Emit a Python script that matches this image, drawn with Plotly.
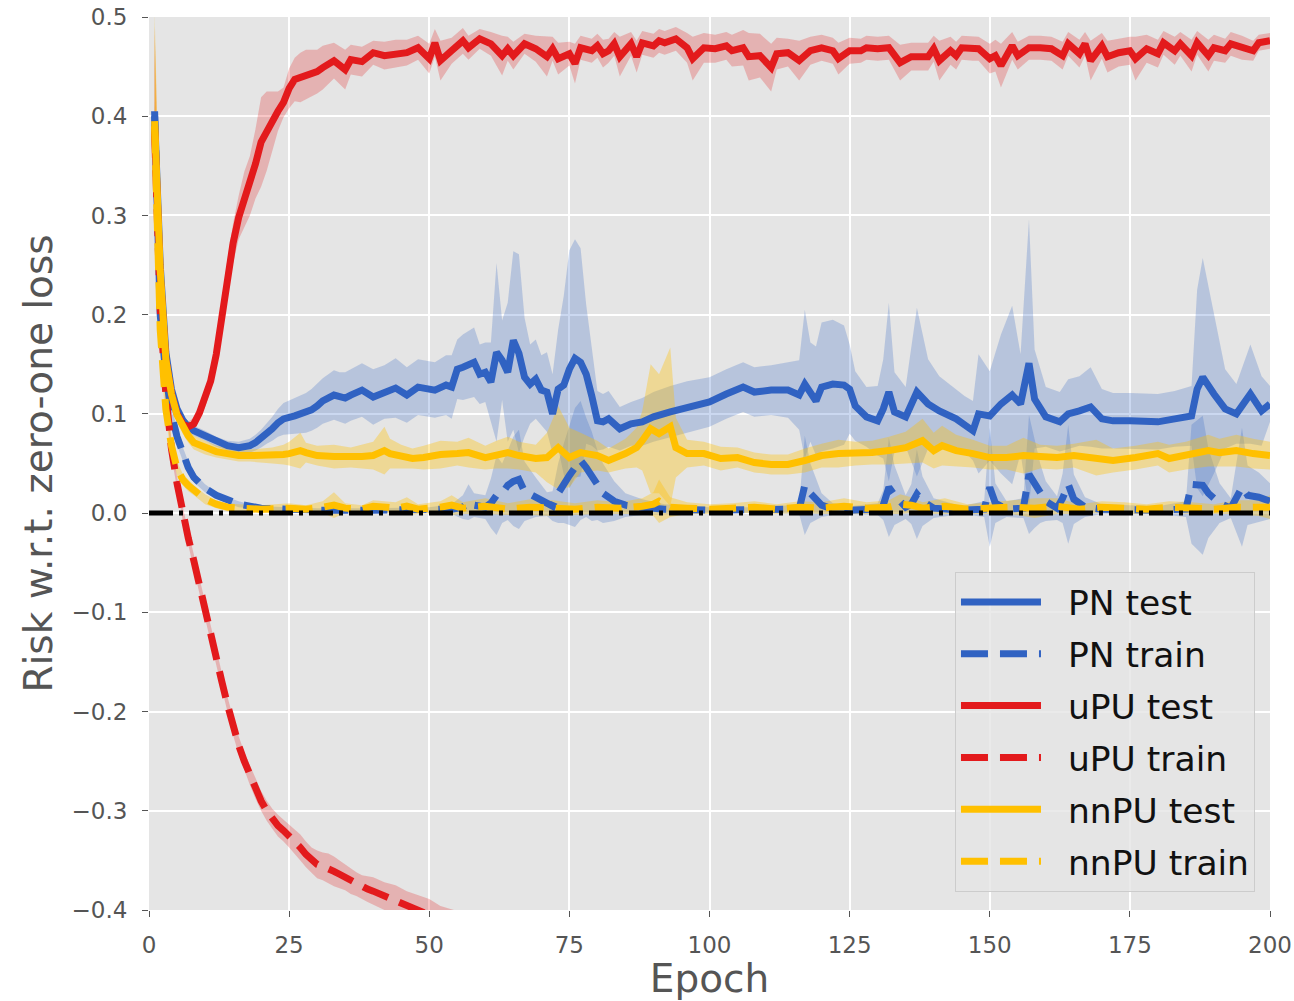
import plotly.graph_objects as go

# (epoch, mean, std)
pn_test = [
    (1, 0.400, 0.010), (2, 0.250, 0.008), (3, 0.162, 0.006), (4, 0.125, 0.005), (5, 0.105, 0.005),
    (6, 0.094, 0.005), (7, 0.087, 0.005), (8, 0.083, 0.005), (10, 0.078, 0.005), (12, 0.072, 0.005),
    (14, 0.068, 0.005), (16, 0.066, 0.006), (18, 0.068, 0.007), (19, 0.071, 0.008), (20, 0.075, 0.009),
    (21, 0.080, 0.010), (22, 0.085, 0.012), (23, 0.091, 0.014), (24, 0.095, 0.016), (26, 0.098, 0.018),
    (28, 0.101, 0.020), (29, 0.104, 0.021), (30, 0.108, 0.022), (31, 0.113, 0.023), (33, 0.119, 0.025),
    (34, 0.117, 0.025), (35, 0.116, 0.026), (36, 0.119, 0.026), (38, 0.124, 0.027), (40, 0.117, 0.028),
    (42, 0.122, 0.027), (44, 0.126, 0.030), (46, 0.119, 0.028), (48, 0.127, 0.028), (51, 0.124, 0.028),
    (53, 0.129, 0.030), (54, 0.127, 0.032), (55, 0.145, 0.030), (56, 0.147, 0.033), (58, 0.152, 0.035),
    (59, 0.140, 0.030), (60, 0.142, 0.030), (61, 0.132, 0.040), (62, 0.162, 0.090), (63, 0.154, 0.040),
    (64, 0.142, 0.070), (65, 0.174, 0.090), (66, 0.161, 0.100), (67, 0.137, 0.060), (68, 0.130, 0.040),
    (69, 0.135, 0.040), (70, 0.124, 0.035), (71, 0.122, 0.040), (72, 0.100, 0.040), (73, 0.125, 0.060),
    (74, 0.129, 0.090), (75, 0.145, 0.120), (76, 0.156, 0.120), (77, 0.152, 0.115), (78, 0.140, 0.070),
    (79, 0.118, 0.050), (80, 0.093, 0.030), (81, 0.092, 0.028), (82, 0.095, 0.028), (84, 0.085, 0.022),
    (86, 0.090, 0.022), (88, 0.092, 0.024), (90, 0.097, 0.025), (93, 0.102, 0.026), (96, 0.107, 0.026),
    (100, 0.112, 0.025), (103, 0.120, 0.025), (106, 0.127, 0.025), (108, 0.122, 0.025), (111, 0.124, 0.025),
    (114, 0.124, 0.028), (116, 0.119, 0.035), (117, 0.130, 0.075), (118, 0.122, 0.050), (119, 0.113, 0.055),
    (120, 0.127, 0.065), (122, 0.130, 0.065), (124, 0.129, 0.060), (125, 0.125, 0.045), (126, 0.108, 0.035),
    (128, 0.097, 0.030), (130, 0.093, 0.035), (131, 0.105, 0.050), (132, 0.122, 0.090), (133, 0.102, 0.040),
    (135, 0.097, 0.030), (137, 0.122, 0.085), (139, 0.110, 0.045), (141, 0.103, 0.035), (144, 0.095, 0.030),
    (145.5, 0.090, 0.028), (147, 0.083, 0.030), (148, 0.100, 0.060), (150, 0.098, 0.045), (152, 0.110, 0.070),
    (154, 0.119, 0.090), (155.5, 0.110, 0.050), (157, 0.151, 0.145), (158, 0.115, 0.050), (160, 0.097, 0.030),
    (162.5, 0.092, 0.030), (164, 0.100, 0.035), (166, 0.103, 0.035), (168, 0.107, 0.040), (170, 0.095, 0.030),
    (172, 0.093, 0.028), (175, 0.093, 0.028), (180, 0.092, 0.028), (183, 0.095, 0.028), (186, 0.098, 0.030),
    (187, 0.125, 0.100), (188, 0.137, 0.120), (190, 0.120, 0.080), (192, 0.105, 0.040), (194, 0.100, 0.030),
    (196.5, 0.120, 0.050), (198.5, 0.103, 0.035), (200, 0.110, 0.018),
]

pn_train = [
    (1, 0.405, 0.010), (2, 0.200, 0.010), (3, 0.140, 0.008), (4, 0.100, 0.008), (5, 0.077, 0.008),
    (6, 0.060, 0.007), (7, 0.046, 0.006), (8, 0.036, 0.005), (10, 0.025, 0.004), (12, 0.018, 0.003),
    (14, 0.013, 0.003), (16, 0.009, 0.003), (18, 0.007, 0.002), (20, 0.005, 0.002), (25, 0.004, 0.002),
    (30, 0.003, 0.002), (40, 0.003, 0.002), (50, 0.003, 0.003), (54, 0.004, 0.005), (56, 0.006, 0.012),
    (57, 0.011, 0.018), (58, 0.008, 0.012), (60, 0.006, 0.012), (61, 0.010, 0.025), (62, 0.018, 0.040),
    (63, 0.020, 0.030), (64, 0.028, 0.035), (65, 0.032, 0.045), (66, 0.034, 0.050), (67, 0.022, 0.030),
    (69, 0.016, 0.020), (71, 0.009, 0.012), (72, 0.007, 0.015), (73, 0.020, 0.030), (74, 0.030, 0.040),
    (75, 0.038, 0.050), (76, 0.046, 0.060), (77, 0.053, 0.060), (78, 0.046, 0.050), (79, 0.037, 0.045),
    (80, 0.028, 0.035), (81, 0.020, 0.030), (83, 0.012, 0.020), (85, 0.008, 0.012), (88, 0.006, 0.008),
    (92, 0.004, 0.005), (100, 0.003, 0.003), (110, 0.003, 0.003), (116, 0.004, 0.005), (117, 0.028, 0.050),
    (118, 0.020, 0.030), (120, 0.008, 0.012), (122, 0.004, 0.006), (125, 0.003, 0.004), (130, 0.004, 0.006),
    (131, 0.008, 0.015), (132, 0.026, 0.050), (133, 0.018, 0.030), (135, 0.006, 0.012), (136, 0.009, 0.020),
    (137, 0.019, 0.045), (138, 0.012, 0.025), (140, 0.005, 0.010), (145, 0.003, 0.004), (149, 0.004, 0.008),
    (150, 0.026, 0.060), (151, 0.010, 0.020), (153, 0.004, 0.008), (156, 0.005, 0.010), (157, 0.039, 0.060),
    (158, 0.030, 0.045), (159, 0.020, 0.030), (160, 0.012, 0.020), (162, 0.005, 0.012), (163, 0.015, 0.025),
    (164, 0.029, 0.060), (165, 0.014, 0.025), (167, 0.006, 0.010), (170, 0.004, 0.005), (180, 0.003, 0.004),
    (185, 0.004, 0.008), (186, 0.029, 0.060), (188, 0.028, 0.070), (189, 0.020, 0.045), (191, 0.010, 0.020),
    (193, 0.005, 0.010), (195, 0.026, 0.060), (196, 0.018, 0.030), (198, 0.016, 0.025), (200, 0.012, 0.018),
]

upu_test = [
    (1, 0.390, 0.100), (2, 0.240, 0.030), (3, 0.155, 0.012), (4, 0.120, 0.008), (5, 0.100, 0.006),
    (6, 0.090, 0.005), (7, 0.087, 0.005), (8, 0.090, 0.006), (9, 0.101, 0.007), (10, 0.115, 0.008),
    (11, 0.133, 0.010), (12, 0.160, 0.012), (13, 0.196, 0.015), (14, 0.238, 0.018), (15, 0.272, 0.020),
    (16, 0.298, 0.022), (17, 0.316, 0.028), (18, 0.330, 0.030), (19, 0.352, 0.035), (20, 0.374, 0.045),
    (21, 0.385, 0.040), (22, 0.395, 0.030), (23, 0.405, 0.020), (24, 0.414, 0.015), (25, 0.428, 0.020),
    (26, 0.437, 0.022), (27, 0.439, 0.025), (28, 0.442, 0.025), (30, 0.445, 0.022), (31, 0.449, 0.022),
    (33, 0.456, 0.018), (35, 0.447, 0.020), (36, 0.457, 0.015), (38, 0.455, 0.015), (40, 0.464, 0.012),
    (42, 0.461, 0.014), (44, 0.463, 0.014), (46, 0.464, 0.013), (48, 0.469, 0.012), (50, 0.458, 0.015),
    (51, 0.474, 0.014), (52, 0.456, 0.020), (54, 0.466, 0.013), (56, 0.476, 0.013), (57, 0.469, 0.012),
    (59, 0.478, 0.010), (61, 0.473, 0.012), (63, 0.461, 0.020), (64, 0.468, 0.012), (65, 0.461, 0.014),
    (67, 0.473, 0.010), (69, 0.468, 0.013), (71, 0.460, 0.020), (72, 0.468, 0.012), (73, 0.458, 0.016),
    (75, 0.463, 0.012), (76, 0.453, 0.020), (77, 0.469, 0.012), (79, 0.466, 0.012), (80, 0.471, 0.012),
    (81, 0.463, 0.014), (82, 0.466, 0.012), (83, 0.473, 0.012), (84, 0.460, 0.020), (86, 0.473, 0.012),
    (87, 0.460, 0.016), (88, 0.474, 0.012), (90, 0.471, 0.012), (91, 0.476, 0.012), (92, 0.474, 0.012),
    (94, 0.478, 0.012), (96, 0.469, 0.015), (97, 0.458, 0.022), (99, 0.469, 0.015), (101, 0.468, 0.014),
    (103, 0.471, 0.014), (104, 0.466, 0.016), (106, 0.469, 0.018), (107, 0.460, 0.024), (109, 0.461, 0.022),
    (111, 0.449, 0.024), (112, 0.463, 0.016), (114, 0.464, 0.014), (116, 0.456, 0.020), (118, 0.466, 0.014),
    (120, 0.469, 0.013), (122, 0.466, 0.013), (123, 0.458, 0.016), (125, 0.466, 0.013), (127, 0.466, 0.012),
    (128, 0.469, 0.012), (130, 0.468, 0.012), (132, 0.469, 0.012), (134, 0.454, 0.018), (136, 0.460, 0.014),
    (139, 0.460, 0.014), (140, 0.468, 0.013), (141, 0.456, 0.020), (143, 0.466, 0.014), (144, 0.461, 0.014),
    (145, 0.469, 0.012), (147, 0.468, 0.012), (148, 0.468, 0.012), (150, 0.458, 0.015), (151, 0.461, 0.016),
    (152, 0.451, 0.022), (154, 0.471, 0.014), (155, 0.461, 0.014), (157, 0.469, 0.012), (159, 0.469, 0.012),
    (161, 0.468, 0.012), (163, 0.461, 0.014), (164, 0.473, 0.012), (166, 0.463, 0.014), (167, 0.473, 0.012),
    (168, 0.456, 0.020), (170, 0.471, 0.013), (171, 0.460, 0.016), (173, 0.464, 0.014), (175, 0.466, 0.014),
    (176, 0.458, 0.022), (178, 0.468, 0.014), (180, 0.463, 0.014), (181, 0.474, 0.012), (183, 0.466, 0.014),
    (184, 0.473, 0.012), (186, 0.461, 0.016), (187, 0.474, 0.012), (189, 0.461, 0.016), (190, 0.469, 0.013),
    (192, 0.466, 0.012), (193, 0.473, 0.012), (195, 0.469, 0.012), (197, 0.466, 0.010), (198, 0.474, 0.008),
    (200, 0.476, 0.008),
]

upu_train = [
    (1, 0.385, 0.080), (2, 0.205, 0.020), (3, 0.120, 0.010), (4, 0.065, 0.008), (5, 0.030, 0.007),
    (6, 0.000, 0.007), (7, -0.025, 0.007), (8, -0.048, 0.007), (9, -0.074, 0.007), (10, -0.098, 0.008),
    (11, -0.121, 0.008), (12, -0.145, 0.008), (13, -0.170, 0.008), (14, -0.193, 0.008), (15, -0.215, 0.009),
    (16, -0.234, 0.009), (17, -0.250, 0.009), (18, -0.264, 0.010), (19, -0.278, 0.010), (20, -0.290, 0.010),
    (21, -0.300, 0.010), (22, -0.308, 0.010), (23, -0.315, 0.011), (24, -0.320, 0.011), (25, -0.325, 0.012),
    (26, -0.331, 0.012), (27, -0.337, 0.013), (28, -0.344, 0.013), (29, -0.350, 0.013), (30, -0.354, 0.014),
    (31, -0.356, 0.014), (32, -0.358, 0.015), (33, -0.361, 0.015), (34, -0.364, 0.014), (35, -0.367, 0.013),
    (36, -0.371, 0.013), (37, -0.374, 0.012), (38, -0.377, 0.012), (39, -0.379, 0.013), (40, -0.381, 0.014),
    (42, -0.386, 0.014), (44, -0.390, 0.015), (46, -0.396, 0.015), (48, -0.401, 0.016), (50, -0.405, 0.016),
    (52, -0.409, 0.013), (55, -0.413, 0.012), (60, -0.418, 0.012),
]

nnpu_test = [
    (1, 0.395, 0.110), (2, 0.245, 0.030), (3, 0.155, 0.012), (4, 0.120, 0.008), (5, 0.099, 0.007),
    (6, 0.087, 0.007), (7, 0.078, 0.007), (8, 0.071, 0.007), (10, 0.066, 0.007), (12, 0.062, 0.006),
    (14, 0.060, 0.006), (16, 0.058, 0.006), (18, 0.058, 0.006), (20, 0.058, 0.007), (22, 0.058, 0.008),
    (24, 0.059, 0.010), (25, 0.060, 0.012), (27, 0.063, 0.018), (28, 0.061, 0.010), (30, 0.058, 0.010),
    (33, 0.057, 0.012), (36, 0.056, 0.010), (38, 0.057, 0.012), (40, 0.058, 0.014), (42, 0.063, 0.024),
    (43, 0.060, 0.015), (45, 0.057, 0.012), (47, 0.055, 0.010), (49, 0.056, 0.012), (52, 0.059, 0.014),
    (55, 0.060, 0.012), (57, 0.061, 0.015), (60, 0.056, 0.012), (62, 0.059, 0.014), (64, 0.061, 0.016),
    (66, 0.058, 0.014), (69, 0.055, 0.014), (71, 0.056, 0.025), (73, 0.066, 0.042), (75, 0.056, 0.030),
    (77, 0.061, 0.020), (80, 0.058, 0.015), (82, 0.053, 0.012), (85, 0.060, 0.015), (87, 0.066, 0.020),
    (88, 0.073, 0.030), (89.5, 0.085, 0.065), (91, 0.080, 0.060), (93, 0.087, 0.080), (94, 0.066, 0.030),
    (96, 0.060, 0.014), (99, 0.060, 0.012), (102, 0.055, 0.012), (105, 0.056, 0.010), (108, 0.051, 0.010),
    (111, 0.049, 0.010), (114, 0.049, 0.010), (117, 0.053, 0.012), (120, 0.058, 0.012), (123, 0.060, 0.014),
    (126, 0.060, 0.012), (129, 0.061, 0.012), (132, 0.063, 0.014), (135, 0.066, 0.016), (138, 0.073, 0.022),
    (140, 0.063, 0.018), (141.5, 0.068, 0.020), (144, 0.063, 0.016), (147, 0.060, 0.014), (150, 0.056, 0.012),
    (153, 0.056, 0.012), (156, 0.058, 0.018), (159, 0.057, 0.012), (162, 0.056, 0.012), (165, 0.058, 0.012),
    (169, 0.056, 0.018), (172, 0.053, 0.012), (176, 0.056, 0.012), (180, 0.060, 0.012), (182, 0.055, 0.014),
    (185, 0.058, 0.014), (189, 0.063, 0.016), (191, 0.061, 0.014), (194, 0.063, 0.016), (197, 0.060, 0.015),
    (200, 0.058, 0.014),
]

nnpu_train = [
    (1, 0.390, 0.100), (2, 0.185, 0.025), (3, 0.105, 0.012), (4, 0.068, 0.008), (5, 0.045, 0.007),
    (6, 0.034, 0.006), (7, 0.028, 0.006), (8, 0.023, 0.005), (10, 0.014, 0.005), (12, 0.009, 0.004),
    (14, 0.006, 0.004), (16, 0.005, 0.004), (20, 0.004, 0.004), (25, 0.005, 0.005), (28, 0.004, 0.004),
    (31, 0.006, 0.006), (33, 0.008, 0.013), (35, 0.005, 0.005), (38, 0.004, 0.004), (40, 0.007, 0.006),
    (44, 0.005, 0.006), (46, 0.007, 0.009), (48, 0.004, 0.005), (52, 0.006, 0.006), (54, 0.008, 0.010),
    (56, 0.005, 0.006), (60, 0.007, 0.008), (64, 0.004, 0.006), (68, 0.006, 0.008), (72, 0.005, 0.008),
    (76, 0.004, 0.006), (80, 0.006, 0.007), (84, 0.005, 0.006), (88, 0.007, 0.008), (90, 0.009, 0.012),
    (91, 0.012, 0.022), (93, 0.006, 0.010), (96, 0.005, 0.006), (100, 0.004, 0.005), (104, 0.005, 0.005),
    (108, 0.006, 0.006), (112, 0.004, 0.005), (116, 0.006, 0.006), (120, 0.005, 0.006), (124, 0.007, 0.008),
    (128, 0.005, 0.006), (132, 0.006, 0.007), (134, 0.009, 0.010), (136, 0.008, 0.008), (138, 0.005, 0.006),
    (142, 0.007, 0.008), (146, 0.004, 0.005), (150, 0.005, 0.006), (154, 0.006, 0.007), (158, 0.005, 0.010),
    (162, 0.007, 0.008), (166, 0.004, 0.005), (170, 0.006, 0.006), (174, 0.005, 0.006), (178, 0.004, 0.005),
    (182, 0.006, 0.006), (186, 0.005, 0.006), (190, 0.004, 0.005), (194, 0.006, 0.007), (198, 0.005, 0.008),
    (200, 0.006, 0.012),
]

series_names = ["PN test", "PN train", "uPU test", "uPU train", "nnPU test", "nnPU train"]
x_ticks = [0, 25, 50, 75, 100, 125, 150, 175, 200]
y_ticks = [-0.4, -0.3, -0.2, -0.1, 0.0, 0.1, 0.2, 0.3, 0.4, 0.5]
zero_line_x = [0, 200]
zero_line_y = [0.0, 0.0]

BLUE = "#3062c2"
RED = "#e31a1c"
YELLOW = "#ffc000"

def rgba(hex_color, a):
    h = hex_color.lstrip("#")
    r, g, b = int(h[0:2], 16), int(h[2:4], 16), int(h[4:6], 16)
    return f"rgba({r},{g},{b},{a})"

specs = [
    (pn_test, BLUE, "solid", 0.25),
    (pn_train, BLUE, "27px,12px", 0.25),
    (upu_test, RED, "solid", 0.25),
    (upu_train, RED, "27px,12px", 0.25),
    (nnpu_test, YELLOW, "solid", 0.35),
    (nnpu_train, YELLOW, "27px,12px", 0.35),
]

fig = go.Figure()

# bands
for data, color, dash, alpha in specs:
    ep = [r[0] for r in data]
    mu = [r[1] for r in data]
    sd = [r[2] for r in data]
    upper = [m + s for m, s in zip(mu, sd)]
    lower = [m - s for m, s in zip(mu, sd)]
    fig.add_trace(go.Scatter(
        x=ep + ep[::-1], y=upper + lower[::-1], fill="toself",
        fillcolor=rgba(color, alpha), line=dict(width=0), mode="lines",
        showlegend=False, hoverinfo="skip"))

# mean lines
for (data, color, dash, alpha), name in zip(specs, series_names):
    ep = [r[0] for r in data]
    mu = [r[1] for r in data]
    fig.add_trace(go.Scatter(
        x=ep, y=mu, mode="lines", name="\u00a0\u00a0" + name, legendgroup=name,
        line=dict(color=color, width=7, dash=dash)))

fig.add_trace(go.Scatter(
    x=zero_line_x, y=zero_line_y, mode="lines", showlegend=False,
    line=dict(color="black", width=5, dash="24px,6px,4px,6px")))

axis_common = dict(
    showgrid=True, gridcolor="white", gridwidth=1.5, zeroline=False, showline=False,
    ticks="outside", ticklen=6, tickwidth=1.2, tickcolor="#555555", automargin=False,
    tickfont=dict(size=23, color="#555555", family="DejaVu Sans"),
)

fig.update_layout(
    width=1294, height=1001,
    margin=dict(l=149, r=24, t=17, b=91, autoexpand=False),
    paper_bgcolor="white", plot_bgcolor="#e5e5e5",
    font=dict(family="DejaVu Sans", color="#555555"),
    xaxis=dict(range=[0, 200], tickvals=x_ticks, ticktext=[str(v) for v in x_ticks],
               title=dict(text="Epoch", font=dict(size=39, color="#555555"), standoff=10),
               ticklabelstandoff=8, **axis_common),
    yaxis=dict(range=[-0.4, 0.5], tickvals=y_ticks,
               ticktext=[("\u2212" if v < 0 else "") + f"{abs(v):.1f}" for v in y_ticks],
               title=dict(text="Risk w.r.t. zero-one loss", font=dict(size=39, color="#555555"), standoff=6),
               ticklabelstandoff=10, **axis_common),
    legend=dict(x=0.9866, y=0.0202, xanchor="right", yanchor="bottom",
                bgcolor="rgba(229,229,229,0.8)", bordercolor="#cccccc", borderwidth=1,
                font=dict(size=34.5, color="#111111", family="DejaVu Sans"),
                itemwidth=80, tracegroupgap=4),
    showlegend=True,
)

fig.write_html("out.html")
